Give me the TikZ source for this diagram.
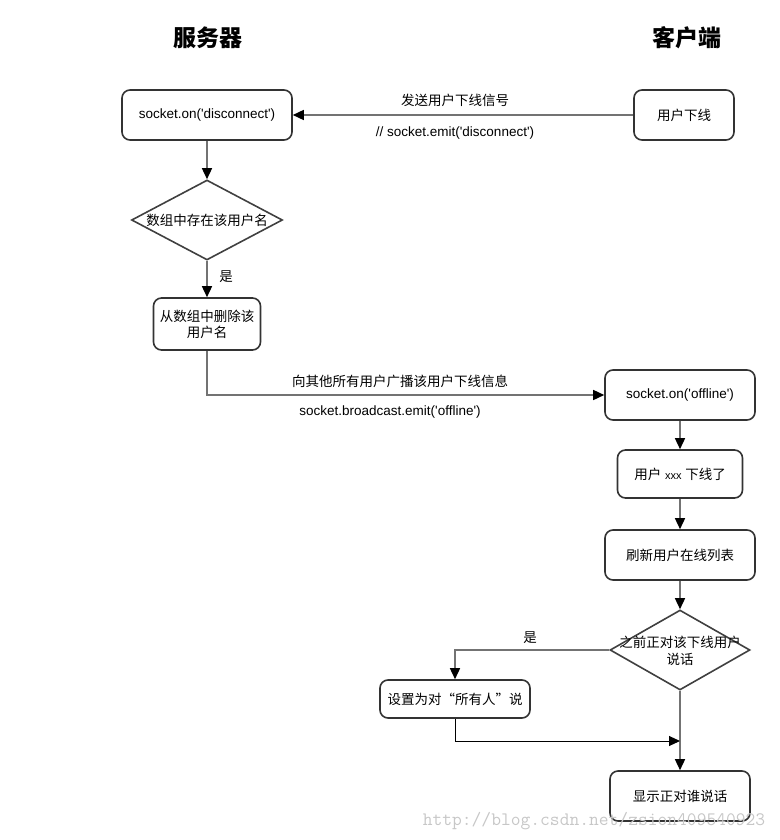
\documentclass[tikz,border=0pt]{standalone}
\usepackage{fontspec}
\setmainfont{Liberation Sans}
\newfontfamily\cjk{Noto Sans CJK SC}
\usetikzlibrary{shapes.geometric,arrows.meta}
\newcommand\sq{\textquotesingle}
\begin{document}
\begin{tikzpicture}[x=1pt,y=-1pt,
  box/.style={draw=black!80, line width=1.6pt, rounded corners=8pt, inner sep=0pt, align=center,
    font=\fontsize{13.5}{16}\selectfont},
  dia/.style={draw=black!75, line width=1.6pt, diamond, inner sep=0pt},
  lbl/.style={inner sep=0pt, font=\fontsize{13.5}{16}\selectfont, align=center},
  conn/.style={draw=black!55, line width=1.5pt, -{Triangle[length=11pt,width=10pt,color=black]}},
  title/.style={inner sep=0pt, font=\cjk\bfseries\fontsize{23}{27}\selectfont}]
\path[use as bounding box] (0,0) rectangle (779,840);

\node[title] (ts) at (208,38) {服务器};
\node[title] (tc) at (687,38) {客户端};

\node[box, minimum width=170pt, minimum height=50pt] (sd) at (207,115) {socket.on(\sq disconnect\sq)};
\node[box, minimum width=100pt, minimum height=50pt] (uo) at (684,115) {\cjk 用户下线};
\node[lbl] (l1) at (455,100) {\cjk 发送用户下线信号};
\node[lbl] (l2) at (455,133) {// socket.emit(\sq disconnect\sq)};

\node[dia, minimum width=151pt, minimum height=80pt] (d1) at (207,220) {};
\node[lbl] (d1t) at (d1) {\cjk 数组中存在该用户名};
\node[lbl] (l3) at (226,277) {\cjk 是};

\node[box, minimum width=107pt, minimum height=52pt] (del) at (207,324) {\cjk 从数组中删除该\\\cjk 用户名};

\node[box, minimum width=150pt, minimum height=50pt] (so) at (680,395) {socket.on(\sq offline\sq)};
\node[lbl] (l4) at (400,381) {\cjk 向其他所有用户广播该用户下线信息};
\node[lbl] (l5) at (390,412) {socket.broadcast.emit(\sq offline\sq)};

\node[box, minimum width=125pt, minimum height=48pt] (xxx) at (680,474) {{\cjk 用户} {\fontsize{11}{13}\selectfont xxx} {\cjk 下线了}};
\node[box, minimum width=150pt, minimum height=50pt] (ref) at (680,555) {\cjk 刷新用户在线列表};

\node[dia, minimum width=140pt, minimum height=80pt] (d2) at (680,650) {};
\node[lbl, font=\cjk\fontsize{13.5}{17}\selectfont] (d2t) at (680,651) {之前正对该下线用户\\说话};
\node[lbl] (l6) at (530,638) {\cjk 是};

\node[box, minimum width=150pt, minimum height=38pt] (setall) at (455,699) {\cjk 设置为对“所有人”说};
\node[box, minimum width=140pt, minimum height=50pt] (show) at (680,796) {\cjk 显示正对谁说话};

\coordinate (join) at (680,741);

\draw[conn] (uo.west) -- (sd.east);
\draw[conn] (sd.south) -- (d1.north);
\draw[conn] (d1.south) -- (del.north);
\draw[conn] (del.south) |- (so.west);
\draw[conn] (so.south) -- (xxx.north);
\draw[conn] (xxx.south) -- (ref.north);
\draw[conn] (ref.south) -- (d2.north);
\draw[conn] (d2.west) -| (setall.north);
\draw[conn] (d2.south) -- (show.north);
\draw[conn, draw=black, line width=1pt] (setall.south) |- (join);

\node[inner sep=0pt, text=black!22, font=\ttfamily\fontsize{19}{22}\selectfont] (wm) at (594,821) {http://blog.csdn.net/zsion409540923};
\end{tikzpicture}
\end{document}
